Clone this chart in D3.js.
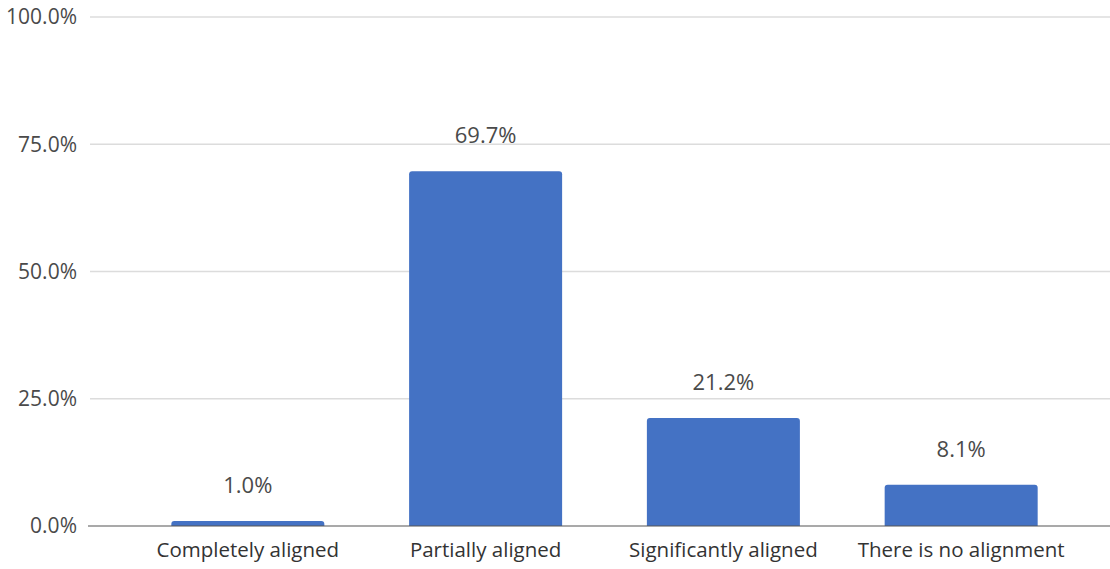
<!DOCTYPE html>
<html>
<head>
<meta charset="utf-8">
<script src="https://cdn.jsdelivr.net/npm/d3@7"></script>
<style>
  html, body { margin: 0; padding: 0; background: #fff; }
  svg { display: block; }
</style>
</head>
<body>
<svg id="chart" width="1110" height="569"></svg>
<script>
const categories = ["Completely aligned", "Partially aligned", "Significantly aligned", "There is no alignment"];
const values = [1.0, 69.7, 21.2, 8.1];
const yTicks = [0, 25, 50, 75, 100];

const W = 1110, H = 569;
const gridLeft = 90, gridRight = 1110;
const svg = d3.select("#chart");
const font = "'Open Sans', 'Noto Sans', sans-serif";

const y = d3.scaleLinear().domain([0, 100]).range([526, 17]);
const x = d3.scaleBand().domain(categories).range([129, 1080]).paddingInner(0.3565).paddingOuter(0.178);

// gridlines
svg.append("g").selectAll("line").data(yTicks.filter(d => d !== 0)).join("line")
  .attr("x1", gridLeft).attr("x2", gridRight)
  .attr("y1", d => y(d)).attr("y2", d => y(d))
  .attr("stroke", "#dcdcdc").attr("stroke-width", 1.5);

// y tick labels
svg.append("g").selectAll("text").data(yTicks).join("text")
  .attr("x", 77).attr("y", d => y(d)).attr("dy", "0.35em")
  .attr("text-anchor", "end")
  .attr("font-family", font).attr("font-size", 21).attr("fill", "#4a4a4a")
  .text(d => d3.format(".1f")(d) + "%");

// bars with rounded top corners
const r = 3;
svg.append("g").selectAll("path").data(values).join("path")
  .attr("fill", "#4472c4")
  .attr("d", (d, i) => {
    const x0 = x(categories[i]), w = x.bandwidth();
    const y0 = y(d), y1 = y(0);
    const rr = Math.min(r, (y1 - y0));
    return `M${x0},${y1} L${x0},${y0 + rr} Q${x0},${y0} ${x0 + rr},${y0} L${x0 + w - rr},${y0} Q${x0 + w},${y0} ${x0 + w},${y0 + rr} L${x0 + w},${y1} Z`;
  });

// zero axis line
svg.append("line")
  .attr("x1", gridLeft - 2).attr("x2", gridRight)
  .attr("y1", y(0)).attr("y2", y(0))
  .attr("stroke", "#555").attr("stroke-width", 1.2);

// data labels
svg.append("g").selectAll("text").data(values).join("text")
  .attr("x", (d, i) => x(categories[i]) + x.bandwidth() / 2)
  .attr("y", d => y(d) - 28)
  .attr("text-anchor", "middle")
  .attr("font-family", font).attr("font-size", 22).attr("fill", "#4a4a4a")
  .text(d => d3.format(".1f")(d) + "%");

// category labels
svg.append("g").selectAll("text").data(categories).join("text")
  .attr("x", d => x(d) + x.bandwidth() / 2)
  .attr("y", 550).attr("dy", "0.35em")
  .attr("text-anchor", "middle")
  .attr("font-family", font).attr("font-size", 20.5).attr("fill", "#333")
  .text(d => d);
</script>
</body>
</html>
